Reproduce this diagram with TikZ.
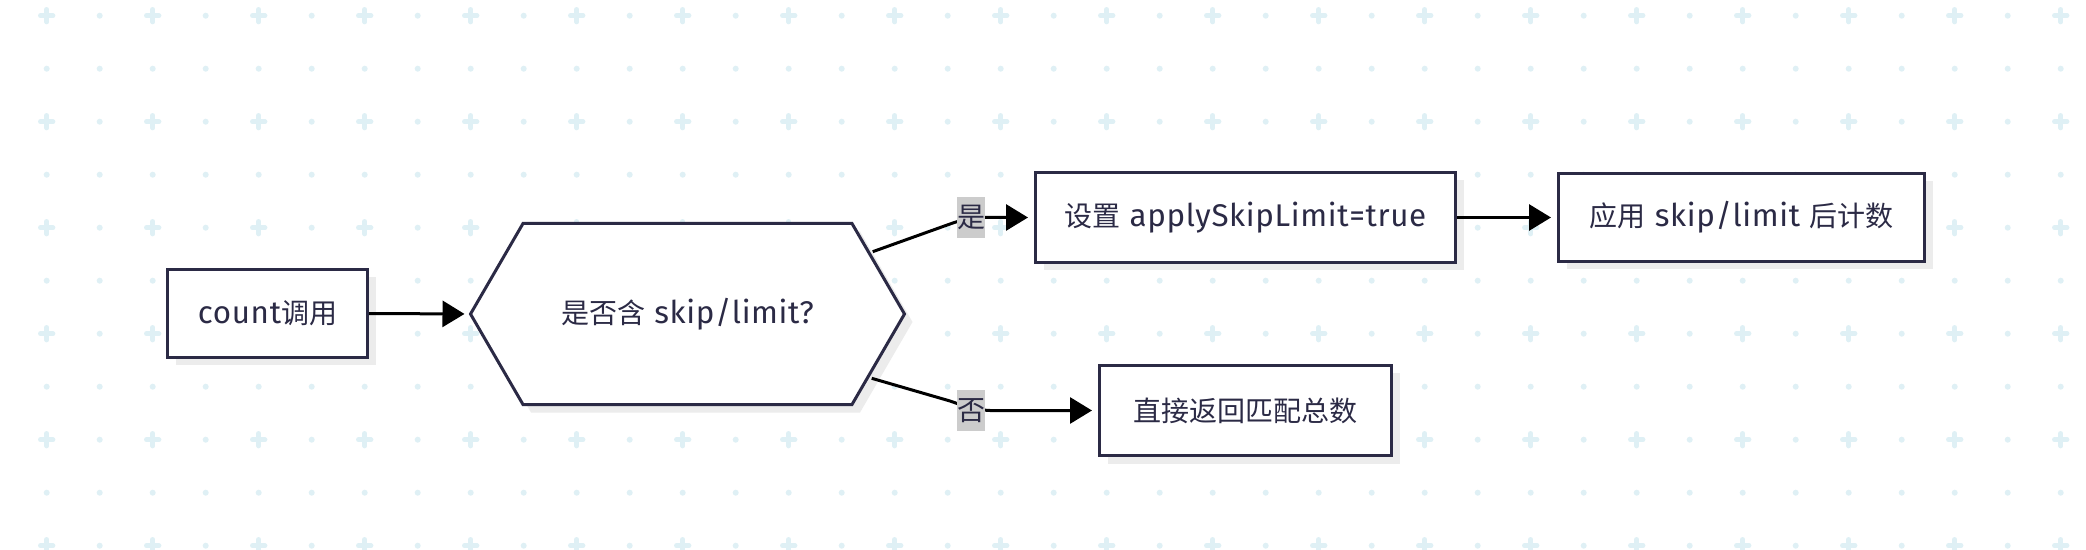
\documentclass[tikz,border=0pt]{standalone}
\usepackage{fontspec}
\setmainfont{Fira Sans}[Scale=1.12, LetterSpace=2.0]
\newfontfamily\cjk{Noto Sans CJK SC}
\usetikzlibrary{arrows.meta,shadows}
\definecolor{gridc}{RGB}{223,240,245}
\definecolor{ink}{RGB}{43,42,69}
\definecolor{shade}{RGB}{236,236,236}
\definecolor{lblbg}{RGB}{204,204,204}
\begin{document}
\begin{tikzpicture}[x=0.5pt,y=-0.5pt,
  boxst/.style={draw=ink, line width=1.5pt, fill=white, text=ink, inner sep=0pt,
    font=\fontsize{14pt}{16pt}\selectfont,
    general shadow={fill=shade, shadow xshift=4pt, shadow yshift=-4pt}},
  hexst/.style={draw=ink, line width=1.5pt, fill=white, line join=miter,
    general shadow={fill=shade, shadow xshift=4pt, shadow yshift=-4pt}},
  hextext/.style={text=ink, inner sep=0pt, font=\fontsize{14pt}{16pt}\selectfont},
  edge/.style={draw=black, line width=1.5pt, -{Triangle[length=11pt,width=13pt]}},
  lbl/.style={fill=lblbg, text=ink, inner sep=0pt, minimum height=20.5pt, minimum width=14pt,
    font=\fontsize{14pt}{16pt}\selectfont\cjk},
  gridplus/.style={draw=gridc, line width=2.35pt, line cap=round},
]
\useasboundingbox (0,0) rectangle (2086,550);
\fill[white] (0,0) rectangle (2086,550);
% background grid
\foreach \i in {0,...,38}{
  \foreach \j in {0,...,10}{
    \pgfmathsetmacro\gx{46.7+53*\i}
    \pgfmathsetmacro\gy{15.7+53*\j}
    \pgfmathtruncatemacro\oddsum{mod(\i,2)+mod(\j,2)}
    \ifnum\oddsum=0
      \draw[gridplus] (\gx-6.3,\gy) -- (\gx+6.3,\gy) (\gx,\gy-6.3) -- (\gx,\gy+6.3);
    \else
      \fill[gridc] (\gx,\gy) circle (1.5pt);
    \fi
  }
}
% nodes
\node[boxst, minimum width=100pt, minimum height=44pt] (count) at (267.5,313.5) {count{\cjk 调用}};
\path[hexst] (470.5,314) -- (523,223.5) -- (852,223.5) -- (904.5,314) -- (852,404.5) -- (523,404.5) -- cycle;
\node[hextext] (hex) at (687.5,314) {{\cjk 是否含} skip/limit?};
\coordinate (hexW) at (470.5,314);
\coordinate (yesS) at (872.7,251.7);
\coordinate (noS) at (871.7,378.3);
\node[boxst, minimum width=210pt, minimum height=45pt] (set) at (1245.5,217.5) {{\cjk 设置} applySkipLimit=true};
\node[boxst, minimum width=183pt, minimum height=44pt] (apply) at (1741.5,217.5) {{\cjk 应用} skip/limit {\cjk 后计数}};
\node[boxst, minimum width=146pt, minimum height=45pt] (ret) at (1245.5,410.5) {\cjk 直接返回匹配总数};
% edges
\draw[edge, shorten >=3pt] (count.east) -- (hexW);
\draw[edge, shorten >=3pt] (yesS) -- (950,224) .. controls (962,220) and (968,217.5) .. (985,217.5) -- (set.west);
\draw[edge, shorten >=3pt] (set.east) -- (apply.west);
\draw[edge, shorten >=3pt] (noS) -- (950,401) .. controls (962,405) and (970,409.5) .. (990,410.5) -- (ret.west);
% edge labels
\node[lbl] (ly) at (971,217.5) {是};
\node[lbl] (ln) at (971,410.5) {否};
\end{tikzpicture}
\end{document}
